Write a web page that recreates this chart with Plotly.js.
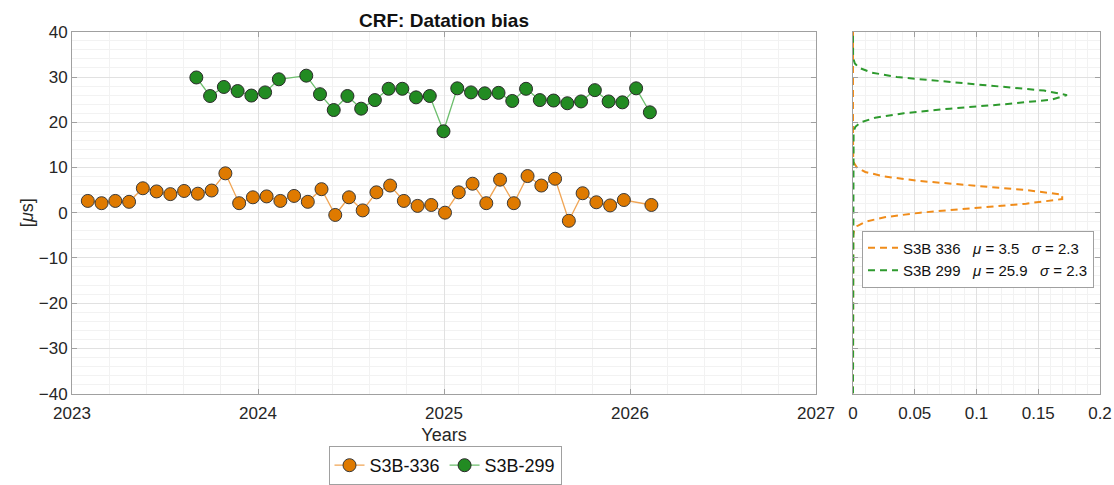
<!DOCTYPE html>
<html>
<head>
<meta charset="utf-8">
<script src="https://cdn.plot.ly/plotly-3.0.1.min.js"></script>
<style>html,body{margin:0;padding:0;background:#fff;}#chart{width:1114px;height:485px;}</style>
</head>
<body>
<div id="chart"></div>
<script>
// ---- Data ----
const datesS3B336 = [
  '2023-02-01','2023-02-28','2023-03-27','2023-04-23','2023-05-20','2023-06-16','2023-07-13','2023-08-09',
  '2023-09-05','2023-10-02','2023-10-29','2023-11-25','2023-12-22','2024-01-18','2024-02-14','2024-03-12',
  '2024-04-08','2024-05-05','2024-06-01','2024-06-28','2024-07-25','2024-08-21','2024-09-17','2024-10-14',
  '2024-11-10','2024-12-07','2025-01-03','2025-01-30','2025-02-26','2025-03-25','2025-04-21','2025-05-18',
  '2025-06-14','2025-07-11','2025-08-07','2025-09-03','2025-09-30','2025-10-27','2025-11-23','2025-12-20',
  '2026-02-12'];
const biasS3B336 = [
  2.6, 2.1, 2.6, 2.4, 5.4, 4.7, 4.1, 4.8,
  4.2, 4.9, 8.7, 2.1, 3.4, 3.6, 2.6, 3.7,
  2.4, 5.2, -0.5, 3.4, 0.5, 4.5, 6.0, 2.6,
  1.5, 1.7, 0.0, 4.5, 6.4, 2.1, 7.3, 2.1,
  8.1, 6.0, 7.5, -1.8, 4.3, 2.3, 1.6, 2.8,
  1.7];
const datesS3B299 = [
  '2023-09-02','2023-09-29','2023-10-26','2023-11-22','2023-12-19','2024-01-15','2024-02-11',
  '2024-04-05','2024-05-02','2024-05-29','2024-06-25','2024-07-22','2024-08-18','2024-09-14','2024-10-11',
  '2024-11-07','2024-12-04','2024-12-31','2025-01-27','2025-02-23','2025-03-22','2025-04-18','2025-05-15',
  '2025-06-11','2025-07-08','2025-08-04','2025-08-31','2025-09-27','2025-10-24','2025-11-20','2025-12-17',
  '2026-01-13','2026-02-09'];
const biasS3B299 = [
  29.9, 25.8, 27.8, 26.9, 25.9, 26.6, 29.5,
  30.3, 26.2, 22.7, 25.8, 23.0, 24.9, 27.4, 27.4,
  25.5, 25.8, 18.0, 27.5, 26.6, 26.4, 26.5, 24.7,
  27.4, 24.9, 24.8, 24.2, 24.6, 27.1, 24.6, 24.4,
  27.5, 22.2];
const seriesNames = ['S3B-336', 'S3B-299'];
const fitNames = ['S3B 336', 'S3B 299'];
const fitMu = [3.5, 25.9];
const fitSigma = [2.3, 2.3];
const yearTicks = [2023, 2024, 2025, 2026, 2027];

// ---- helpers ----
function decYear(s) {
  const d = new Date(s + 'T00:00:00Z');
  const y = d.getUTCFullYear();
  const a = Date.UTC(y, 0, 1), b = Date.UTC(y + 1, 0, 1);
  return y + (d.getTime() - a) / (b - a);
}
function gaussCurve(mu, sigma) {
  const ys = [], xs = [];
  for (let v = -40; v <= 40; v += 1) {
    ys.push(v);
    xs.push(Math.exp(-0.5 * Math.pow((v - mu) / sigma, 2)) / (sigma * Math.sqrt(2 * Math.PI)));
  }
  return {x: xs, y: ys};
}

const W = 1114, H = 485;
const px = v => v / W, py = v => 1 - v / H;
const font = 'Liberation Sans, Arial, Helvetica, sans-serif';
const txt = '#262626';
const axLine = '#a0a0a0';
const grid = '#e1e1e1';
const minorGrid = '#f2f2f2';

const orangeFill = '#DF7A00', orangeLine = '#F0A555';
const greenFill = '#228B22', greenLine = '#6DBE6D';
const orangeDash = '#F08C1A', greenDash = '#2E9A2E';
const sp = '\u00A0\u00A0\u00A0';

const g1 = gaussCurve(fitMu[0], fitSigma[0]);
const g2 = gaussCurve(fitMu[1], fitSigma[1]);

const traces = [
  {x: datesS3B336.map(decYear), y: biasS3B336, name: seriesNames[0], type: 'scatter', mode: 'lines+markers',
   line: {color: orangeLine, width: 1.3}, marker: {color: orangeFill, size: 13, line: {color: '#3a3a3a', width: 1}},
   xaxis: 'x', yaxis: 'y', legend: 'legend'},
  {x: datesS3B299.map(decYear), y: biasS3B299, name: seriesNames[1], type: 'scatter', mode: 'lines+markers',
   line: {color: greenLine, width: 1.3}, marker: {color: greenFill, size: 13, line: {color: '#2a2a2a', width: 1}},
   xaxis: 'x', yaxis: 'y', legend: 'legend'},
  {x: g1.x, y: g1.y, type: 'scatter', mode: 'lines',
   name: fitNames[0] + sp + '<i>\u03BC</i> = ' + fitMu[0].toFixed(1) + sp + '<i>\u03C3</i> = ' + fitSigma[0].toFixed(1),
   line: {color: orangeDash, width: 2, dash: '7px,5px'}, xaxis: 'x2', yaxis: 'y2', legend: 'legend2'},
  {x: g2.x, y: g2.y, type: 'scatter', mode: 'lines',
   name: fitNames[1] + sp + '<i>\u03BC</i> = ' + fitMu[1].toFixed(1) + sp + '<i>\u03C3</i> = ' + fitSigma[1].toFixed(1),
   line: {color: greenDash, width: 2, dash: '7px,5px'}, xaxis: 'x2', yaxis: 'y2', legend: 'legend2'}
];

const commonAxis = {
  showline: true, linecolor: axLine, linewidth: 1, mirror: 'ticks', ticks: 'inside', ticklen: 5,
  tickcolor: axLine, showgrid: true, gridcolor: grid, gridwidth: 1, zeroline: false,
  tickfont: {family: font, size: 17, color: txt}, automargin: false
};

const layout = {
  width: W, height: H,
  paper_bgcolor: '#ffffff', plot_bgcolor: '#ffffff',
  margin: {l: 0, r: 0, t: 0, b: 0},
  font: {family: font, color: txt},
  title: {text: '<b>CRF: Datation bias</b>', x: px(444), xanchor: 'center', y: py(20), yanchor: 'middle',
          font: {family: font, size: 19, color: '#111'}},
  xaxis: Object.assign({}, commonAxis, {
    domain: [px(72), px(816)], range: [2023, 2027], tickmode: 'array', tickvals: yearTicks,
    ticktext: yearTicks.map(String), anchor: 'y', ticklabelstandoff: 4,
    minor: {dtick: 0.2, tick0: 2023, showgrid: true, gridcolor: minorGrid, ticks: ''},
    title: {text: 'Years', font: {family: font, size: 18, color: txt}, standoff: 6}
  }),
  yaxis: Object.assign({}, commonAxis, {
    domain: [py(396), py(32)], range: [-40, 40], dtick: 10, anchor: 'x',
    minor: {dtick: 2, showgrid: true, gridcolor: minorGrid, ticks: ''},
    title: {text: '[<i>\u03BC</i>s]', font: {family: font, size: 18, color: txt}, standoff: 0}
  }),
  xaxis2: Object.assign({}, commonAxis, {
    domain: [px(853), px(1100)], range: [0, 0.2], dtick: 0.05, anchor: 'y2', ticklabelstandoff: 4,
    minor: {dtick: 0.01, showgrid: true, gridcolor: minorGrid, ticks: ''}
  }),
  yaxis2: Object.assign({}, commonAxis, {
    domain: [py(396), py(32)], range: [-40, 40], dtick: 10, anchor: 'x2', showticklabels: false,
    minor: {dtick: 2, showgrid: true, gridcolor: minorGrid, ticks: ''}
  }),
  legend: {orientation: 'h', x: px(445), xanchor: 'center', y: py(449), yanchor: 'top',
           bgcolor: '#ffffff', bordercolor: '#a0a0a0', borderwidth: 1,
           font: {family: font, size: 18, color: '#111'}, itemwidth: 30, tracegroupgap: 0},
  legend2: {x: px(1094), xanchor: 'right', y: py(232), yanchor: 'top',
           bgcolor: '#ffffff', bordercolor: '#a0a0a0', borderwidth: 1,
           font: {family: font, size: 15, color: '#111'}, itemwidth: 30, tracegroupgap: 0},
  showlegend: true
};

Plotly.newPlot('chart', traces, layout, {displayModeBar: false, staticPlot: true});
</script>
</body>
</html>
